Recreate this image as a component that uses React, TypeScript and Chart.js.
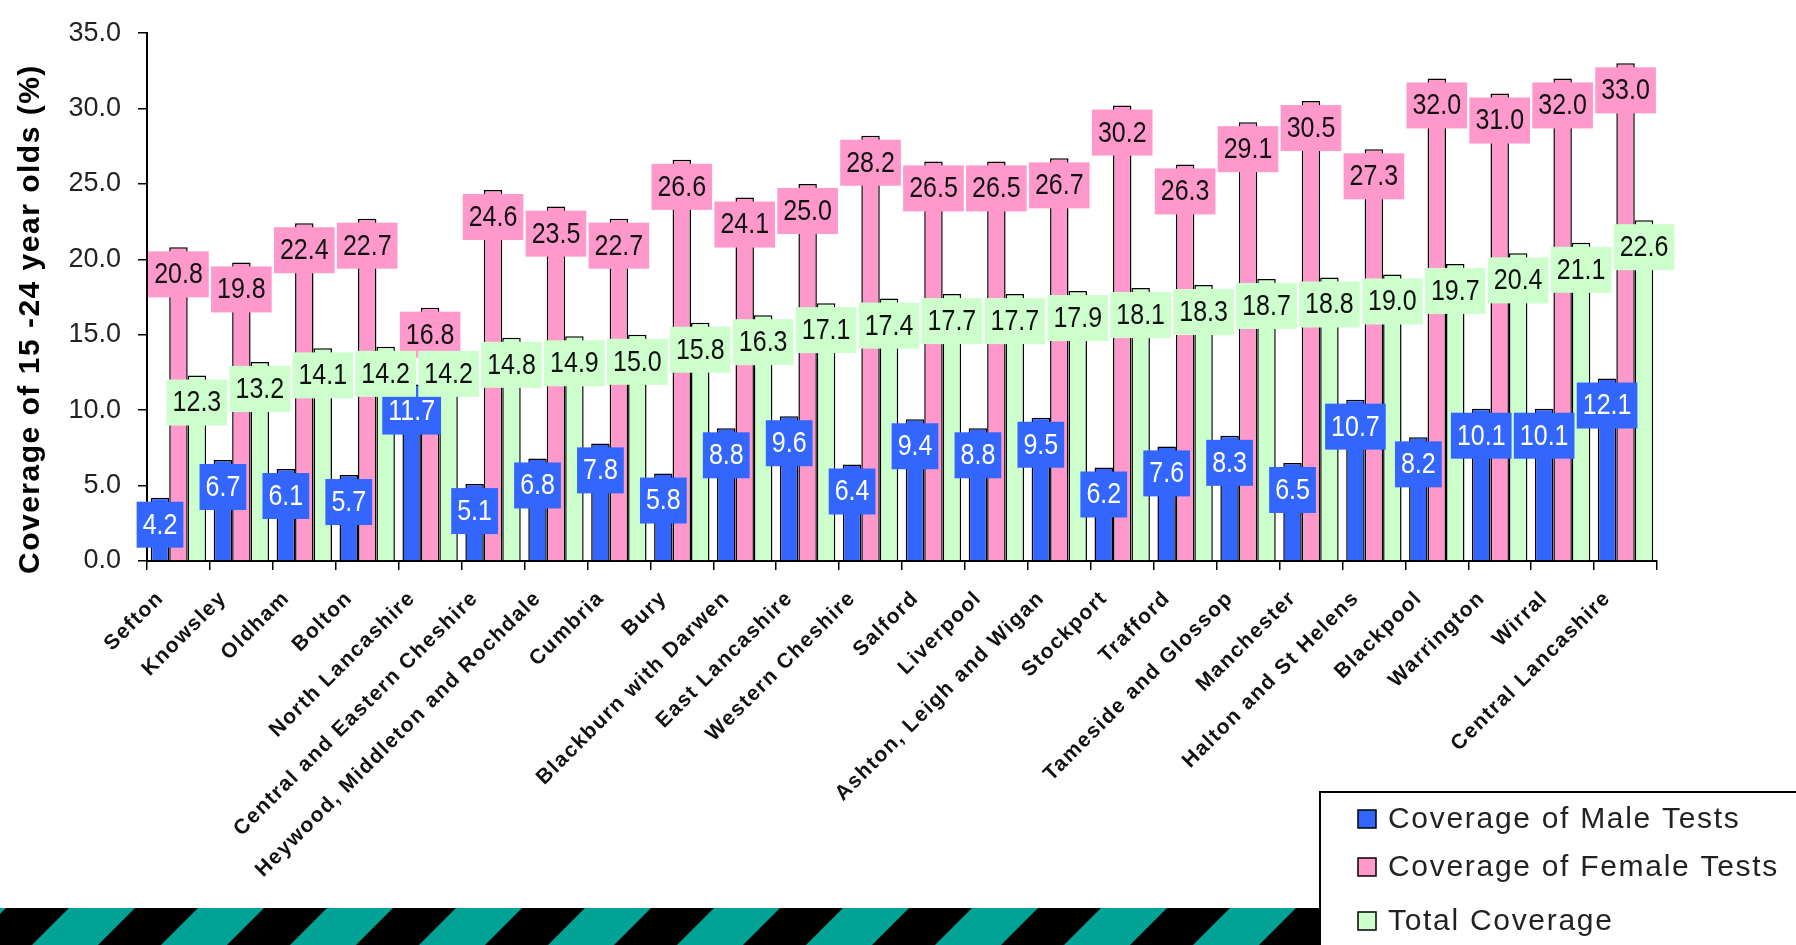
import React, { useEffect, useRef } from "react";
import { Chart, registerables } from "chart.js";

Chart.register(...registerables);

const categories = [
  "Sefton",
  "Knowsley",
  "Oldham",
  "Bolton",
  "North Lancashire",
  "Central and Eastern Cheshire",
  "Heywood, Middleton and Rochdale",
  "Cumbria",
  "Bury",
  "Blackburn with Darwen",
  "East Lancashire",
  "Western Cheshire",
  "Salford",
  "Liverpool",
  "Ashton, Leigh and Wigan",
  "Stockport",
  "Trafford",
  "Tameside and Glossop",
  "Manchester",
  "Halton and St Helens",
  "Blackpool",
  "Warrington",
  "Wirral",
  "Central Lancashire",
];

const maleValues = [4.2, 6.7, 6.1, 5.7, 11.7, 5.1, 6.8, 7.8, 5.8, 8.8, 9.6, 6.4, 9.4, 8.8, 9.5, 6.2, 7.6, 8.3, 6.5, 10.7, 8.2, 10.1, 10.1, 12.1];
const femaleValues = [20.8, 19.8, 22.4, 22.7, 16.8, 24.6, 23.5, 22.7, 26.6, 24.1, 25.0, 28.2, 26.5, 26.5, 26.7, 30.2, 26.3, 29.1, 30.5, 27.3, 32.0, 31.0, 32.0, 33.0];
const totalValues = [12.3, 13.2, 14.1, 14.2, 14.2, 14.8, 14.9, 15.0, 15.8, 16.3, 17.1, 17.4, 17.7, 17.7, 17.9, 18.1, 18.3, 18.7, 18.8, 19.0, 19.7, 20.4, 21.1, 22.6];

const seriesNames = ["Coverage of Male Tests", "Coverage of Female Tests", "Total Coverage"];
const seriesColors = ["#3366FF", "#FF99CC", "#CCFFCC"];
const labelTextColors = ["#FFFFFF", "#111111", "#111111"];

const yAxisTitle = "Coverage of 15 -24 year olds (%)";
const yMin = 0;
const yMax = 35;
const yStep = 5;

const FONT = '"Liberation Sans", Arial, sans-serif';

const W = 1796;
const H = 945;

const textTweakPlugin = {
  id: "textTweak",
  afterLayout(chart: any) {
    const xs = chart.scales.x;
    const ys = chart.scales.y;
    if (xs && !xs.__wrapped) {
      const orig = xs.drawLabels;
      xs.drawLabels = function (area: any) {
        const ctx = this.ctx as any;
        ctx.save();
        ctx.letterSpacing = "1.5px";
        orig.call(this, area);
        ctx.restore();
      };
      xs.__wrapped = true;
    }
    if (ys && !ys.__wrapped) {
      const origT = ys.drawTitle;
      ys.drawTitle = function () {
        const ctx = this.ctx as any;
        ctx.save();
        ctx.letterSpacing = "1.5px";
        ctx.translate(0, 22);
        origT.call(this);
        ctx.restore();
      };
      ys.__wrapped = true;
    }
  },
};

const barLabelPlugin = {
  id: "barLabels",
  afterDraw(chart: any) {
    const ctx = chart.ctx as CanvasRenderingContext2D;
    ctx.save();
    ctx.font = `25px ${FONT}`;
    ctx.textAlign = "center";
    ctx.textBaseline = "middle";
    chart.data.datasets.forEach((ds: any, di: number) => {
      const meta = chart.getDatasetMeta(di);
      meta.data.forEach((bar: any, i: number) => {
        const v = ds.data[i] as number;
        const text = v.toFixed(1);
        const w = ctx.measureText(text).width + 12;
        const h = 46;
        const top = bar.y + 4;
        ctx.fillStyle = ds.backgroundColor;
        ctx.fillRect(bar.x - w / 2, top, w, h);
        ctx.fillStyle = labelTextColors[di];
        ctx.save();
        ctx.translate(bar.x, top + h / 2 + 1);
        ctx.scale(1, 1.15);
        ctx.fillText(text, 0, 0);
        ctx.restore();
      });
    });
    ctx.restore();
  },
};

const decorPlugin = {
  id: "decor",
  afterDraw(chart: any) {
    const ctx = chart.ctx as any;
    ctx.save();
    // striped band at the bottom
    const bandTop = 908;
    const bandH = H - bandTop;
    ctx.fillStyle = "#000000";
    ctx.fillRect(0, bandTop, 1320, bandH);
    ctx.fillStyle = "#00A396";
    const period = 129;
    const stripeW = 66;
    for (let x0 = 32 - period * 2; x0 < 1400; x0 += period) {
      ctx.beginPath();
      ctx.moveTo(x0, H);
      ctx.lineTo(x0 + bandH, bandTop);
      ctx.lineTo(x0 + bandH + stripeW, bandTop);
      ctx.lineTo(x0 + stripeW, H);
      ctx.closePath();
      ctx.fill();
    }
    // legend box
    const lx = 1320;
    const ly = 792;
    ctx.fillStyle = "#FFFFFF";
    ctx.fillRect(lx, ly, W - lx + 10, H - ly + 10);
    ctx.strokeStyle = "#000000";
    ctx.lineWidth = 2;
    ctx.strokeRect(lx, ly, W - lx + 10, H - ly + 10);
    const rows = [819, 867, 921];
    ctx.font = `30px ${FONT}`;
    ctx.letterSpacing = "1.7px";
    ctx.textAlign = "left";
    ctx.textBaseline = "middle";
    chart.data.datasets.forEach((ds: any, di: number) => {
      const cy = rows[di];
      ctx.fillStyle = ds.backgroundColor;
      ctx.fillRect(1358, cy - 9, 18, 18);
      ctx.lineWidth = 1.5;
      ctx.strokeStyle = "#000";
      ctx.strokeRect(1358, cy - 9, 18, 18);
      ctx.fillStyle = "#222222";
      ctx.fillText(ds.label, 1388, cy + 1);
    });
    ctx.restore();
  },
};

export default function App() {
  const canvasRef = useRef<HTMLCanvasElement | null>(null);

  useEffect(() => {
    const canvas = canvasRef.current;
    if (!canvas) return;
    const datasets = [maleValues, femaleValues, totalValues].map((vals, i) => ({
      label: seriesNames[i],
      data: vals,
      backgroundColor: seriesColors[i],
      borderColor: "#000000",
      borderWidth: 1.5,
      categoryPercentage: 0.88,
      barPercentage: 1.0,
    }));
    const chart = new Chart(canvas, {
      type: "bar",
      data: { labels: categories, datasets },
      plugins: [textTweakPlugin, barLabelPlugin, decorPlugin],
      options: {
        animation: false,
        responsive: false,
        maintainAspectRatio: false,
        layout: { padding: { top: 29, right: 139, left: 0, bottom: 0 } },
        plugins: {
          legend: { display: false },
          tooltip: { enabled: false },
        },
        scales: {
          x: {
            offset: true,
            grid: {
              offset: true,
              drawOnChartArea: false,
              drawTicks: true,
              tickLength: 9,
              color: "#000000",
              lineWidth: 1.5,
            },
            border: { display: true, color: "#000000", width: 2 },
            ticks: {
              autoSkip: false,
              maxRotation: 45,
              minRotation: 45,
              padding: 16,
              labelOffset: -18,
              color: "#111111",
              font: { family: FONT, size: 21, weight: "bold" },
            },
            afterFit: (scale: any) => {
              scale.height = 384;
            },
          },
          y: {
            min: yMin,
            max: yMax,
            ticks: {
              stepSize: yStep,
              padding: 17,
              color: "#222222",
              font: { family: FONT, size: 27 },
              callback: (v: any) => Number(v).toFixed(1),
            },
            grid: {
              drawOnChartArea: false,
              drawTicks: true,
              tickLength: 9,
              color: "#000000",
              lineWidth: 1.5,
            },
            border: { display: true, color: "#000000", width: 2 },
            title: {
              display: true,
              text: yAxisTitle,
              color: "#000000",
              padding: { top: 13, bottom: 0 },
              font: { family: FONT, size: 30, weight: "bold" },
            },
            afterFit: (scale: any) => {
              scale.width = 147;
            },
          },
        },
      },
    });
    return () => chart.destroy();
  }, []);

  return (
    <div
      style={{
        position: "fixed",
        left: 0,
        top: 0,
        width: W,
        height: H,
        background: "#FFFFFF",
        overflow: "hidden",
      }}
    >
      <canvas ref={canvasRef} width={W} height={H} style={{ width: W, height: H, display: "block" }} />
    </div>
  );
}
